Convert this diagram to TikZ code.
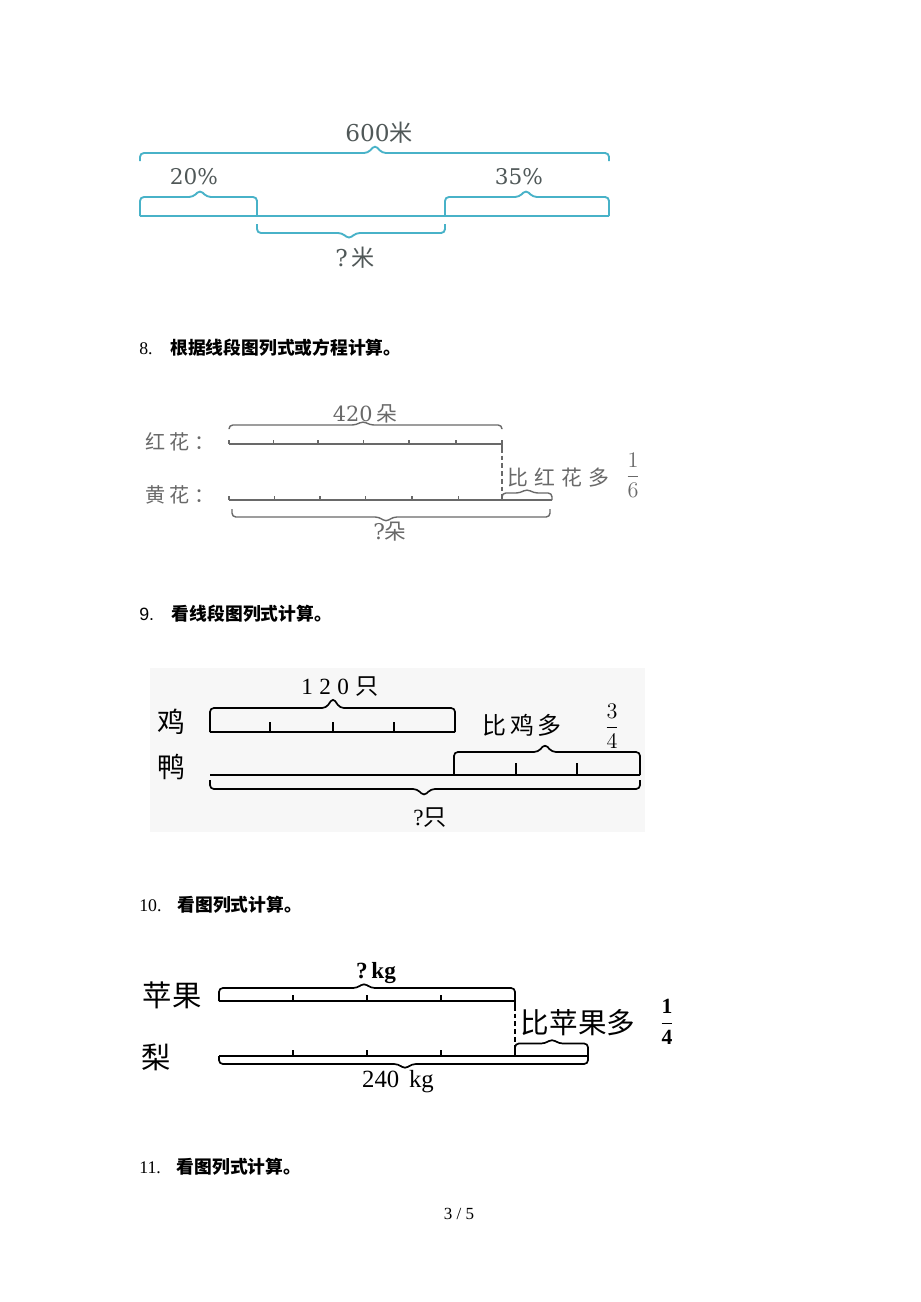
\documentclass[tikz,border=0pt]{standalone}
\usepackage{fontspec}
\setmainfont{Liberation Serif}
\newfontfamily\cjk{Noto Sans CJK SC}
\newfontfamily\dvs{DejaVu Serif}
\newfontfamily\lsans{Liberation Sans}
\definecolor{tealline}{RGB}{72,178,200}
\definecolor{tealtext}{RGB}{80,88,88}
\definecolor{scangray}{RGB}{105,105,105}
\def\brace[#1](#2:#3:#4)(#5:#6:#7){\draw[#1] (#2,#5) -- (#2,#6) -- ({#4-7},#6) -- (#4,#7) -- ({#4+7},#6) -- (#3,#6) -- (#3,#5);}

\begin{document}
\begin{tikzpicture}[x=0.647pt,y=-0.647pt,
    tealbar/.style={draw=tealline, line width=1.2pt, rounded corners=2.5pt},
    graybar/.style={draw=scangray, line width=0.9pt, rounded corners=2.5pt},
    blackbar/.style={draw=black, line width=1.1pt, rounded corners=2.5pt},
    head/.style={anchor=west, inner sep=0pt, font=\fontsize{11.5}{11.5}\selectfont},
    lab/.style={inner sep=0pt}]
			%%%%% START %%%%%
			\useasboundingbox[fill=white] (0,0) rectangle (920,1302);
			
			% 600 m, teal
			\node[lab, text=tealtext, font=\dvs\fontsize{15}{15}\selectfont] (m600) at (379,133) {600{\cjk 米}};
			\brace[tealbar](140:609:375)(161:153:145)
			\draw[tealbar] (140,216) -- (609,216);
			\brace[tealbar](140:257:200)(216:197:190)
			\brace[tealbar](445:609:526)(216:197:190)
			\brace[tealbar](257:445:349)(224:233:239)
			\node[lab, text=tealtext, font=\dvs\fontsize{14}{14}\selectfont] (p20) at (194,177) {20\%};
			\node[lab, text=tealtext, font=\dvs\fontsize{14}{14}\selectfont] (p35) at (519,177) {35\%};
			\node[lab, text=tealtext, font=\dvs\fontsize{15}{15}\selectfont] (qm) at (355,258) {?\,{\cjk 米}};
			
			% 8
			\node[head] (h8) at (139,348) {8.\hspace{1em}{\cjk\bfseries 根据线段图列式或方程计算。}};
			\node[lab, text=scangray, font=\cjk\fontsize{13}{13}\selectfont] (hong) at (180,442) {红\hspace{3pt}花\hspace{3pt}：};
			\node[lab, text=scangray, font=\cjk\fontsize{13}{13}\selectfont] (huang) at (180,495) {黄\hspace{3pt}花\hspace{3pt}：};
			\node[lab, text=scangray, font=\fontsize{13.5}{13.5}\selectfont] (d420) at (365,414) {{\dvs 420}\,{\cjk 朵}};
			\brace[graybar](229:502:363)(429:425:421)
			\draw[graybar] (229,444) -- (502,444);
			\draw[graybar] (229,444) -- ++(0,-4) (273.6,444) -- ++(0,-4) (318,444) -- ++(0,-4) (363.5,444) -- ++(0,-4) (409,444) -- ++(0,-4) (456,444) -- ++(0,-4) (502,440) -- (502,448);
			\draw[graybar, dash pattern=on 3pt off 2pt] (502,448) -- (502,500);
			\node[lab, anchor=west, text=scangray, font=\cjk\fontsize{13.5}{13.5}\selectfont] (more16) at (507,478) {比\hspace{4pt}红\hspace{4pt}花\hspace{4pt}多};
			\node[lab, text=scangray, font=\fontsize{14}{14}\selectfont] (f16) at (633,475) {$\displaystyle\frac{1}{6}$};
			\draw[graybar] (229,500) -- (552,500);
			\draw[graybar] (229,500) -- ++(0,-4) (274.6,500) -- ++(0,-4) (320,500) -- ++(0,-4) (365.7,500) -- ++(0,-4) (412,500) -- ++(0,-4) (458.6,500) -- ++(0,-4) (502,500) -- ++(0,-5);
			\brace[graybar](502:552:527)(500:493:489)
			\brace[graybar](232:550:386)(509:517:522)
			\node[lab, text=scangray, font=\fontsize{14}{14}\selectfont] (qduo) at (390,532) {{\dvs ?}{\cjk 朵}};
			
			% 9
			\fill[black!3] (150,668) rectangle (645,832);
			\node[head] (h9) at (139,614) {{\lsans 9.}\hspace{1em}{\cjk\bfseries 看线段图列式计算。}};
			\node[lab, font=\cjk\fontsize{18}{18}\selectfont] (ji) at (171,722) {鸡};
			\node[lab, font=\cjk\fontsize{18}{18}\selectfont] (ya) at (171,767) {鸭};
			\node[lab, font=\fontsize{15}{15}\selectfont] (n120) at (340,687) {1\;2\;0\;{\cjk 只}};
			\brace[blackbar](210:455:333)(732:708:698)
			\draw[blackbar] (210,732) -- (455,732);
			\draw[blackbar] (270,732) -- ++(0,-10) (333,732) -- ++(0,-10) (394,732) -- ++(0,-10);
			\node[lab, font=\cjk\fontsize{15.5}{15.5}\selectfont] (more34) at (522,725) {比\hspace{2pt}鸡\hspace{2pt}多};
			\node[lab, font=\fontsize{15}{15}\selectfont] (f34) at (612,726) {$\displaystyle\frac{3}{4}$};
			\draw[blackbar] (210,775) -- (640,775);
			\brace[blackbar](454:640:545)(775:752:744)
			\draw[blackbar] (516,775) -- ++(0,-12) (577,775) -- ++(0,-12);
			\brace[blackbar](210:640:424)(780:789:796)
			\node[lab, font=\fontsize{15}{15}\selectfont] (qzhi) at (430,818) {?{\cjk 只}};
			
			% 10
			\node[head] (h10) at (139,905) {10.\hspace{0.9em}{\cjk\bfseries 看图列式计算。}};
			\node[lab, font=\cjk\fontsize{19}{19}\selectfont] (pg) at (172,995) {苹果};
			\node[lab, font=\cjk\fontsize{19}{19}\selectfont] (li) at (156,1057) {梨};
			\node[lab, font=\bfseries\fontsize{15}{15}\selectfont] (qkg) at (376,973) {?\,kg};
			\brace[blackbar](219:515:364)(1001:988:983)
			\draw[blackbar] (219,1001) -- (515,1001);
			\draw[blackbar] (293,1001) -- ++(0,-6) (367,1001) -- ++(0,-6) (441,1001) -- ++(0,-6) (515,1001) -- ++(0,5);
			\draw[blackbar, dash pattern=on 3pt off 2pt] (515,1006) -- (515,1050);
			\node[lab, font=\cjk\fontsize{18.5}{18.5}\selectfont] (more14) at (578,1023) {比苹果多};
			\node[lab, font=\fontsize{14}{14}\selectfont] (f14) at (667,1022) {$\displaystyle\frac{\mathbf{1}}{\mathbf{4}}$};
			\draw[blackbar] (219,1056) -- (588,1056);
			\draw[blackbar] (293,1056) -- ++(0,-6) (367,1056) -- ++(0,-6) (441,1056) -- ++(0,-6);
			\brace[blackbar](515:588:552)(1056:1043.5:1039)
			\brace[blackbar](219:588:405)(1056:1064:1069)
			\node[lab, font=\fontsize{16}{16}\selectfont] (kg240) at (398,1082) {240\hspace{0.4em}kg};
			
			% 11
			\node[head] (h11) at (139,1167) {11.\hspace{0.9em}{\cjk\bfseries 看图列式计算。}};
			\node[lab, font=\fontsize{11}{11}\selectfont] (page) at (459,1214) {3 / 5};
			%%%%% END %%%%%
\end{tikzpicture}
\end{document}
